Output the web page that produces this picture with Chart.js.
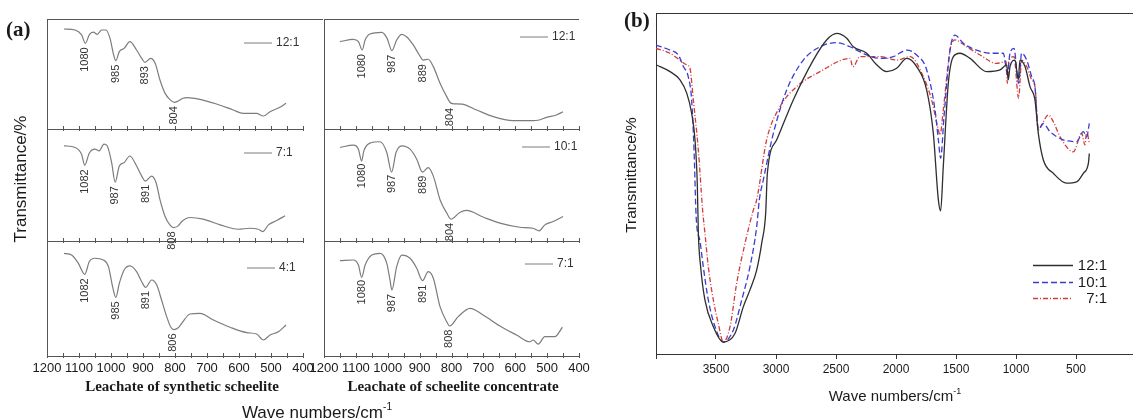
<!DOCTYPE html>
<html>
<head>
<meta charset="utf-8">
<script src="https://cdn.jsdelivr.net/npm/chart.js@4"></script>
<style>
body{margin:0;background:#fff;}
#page{position:relative;width:1133px;height:419px;overflow:hidden;font-family:"Liberation Sans",Arial,sans-serif;color:#1a1a1a;}
canvas{position:absolute;}
.txt{position:absolute;white-space:nowrap;line-height:1;}
.rot{transform:translate(-50%,-50%) rotate(-90deg);}
.ctr{transform:translate(-50%,-50%);}
.serif{font-family:"Liberation Serif","Times New Roman",serif;font-weight:bold;}
sup{font-size:0.6em;vertical-align:0.7em;line-height:0;}
</style>
</head>
<body>
<div id="page">
  <canvas id="syn12" width="296" height="150" style="left:27px;top:9px"></canvas>
  <canvas id="syn7" width="296" height="152" style="left:27px;top:119px"></canvas>
  <canvas id="syn4" width="296" height="155" style="left:27px;top:231px"></canvas>
  <canvas id="con12" width="295" height="150" style="left:304px;top:9px"></canvas>
  <canvas id="con10" width="295" height="152" style="left:304px;top:119px"></canvas>
  <canvas id="con7" width="295" height="155" style="left:304px;top:231px"></canvas>
  <canvas id="ratio" width="497" height="391" style="left:636px;top:3px"></canvas>

  <div class="txt serif" style="left:6px;top:19px;font-size:21px">(a)</div>
  <div class="txt serif" style="left:624px;top:10px;font-size:21px">(b)</div>
  <div class="txt rot" style="left:20px;top:179px;font-size:17px">Transmittance/%</div>
  <div class="txt rot" style="left:631px;top:175px;font-size:15.5px">Transmittance/%</div>
  <div class="txt ctr serif" style="left:182px;top:386px;font-size:15px">Leachate of synthetic scheelite</div>
  <div class="txt ctr serif" style="left:453px;top:386px;font-size:15px">Leachate of scheelite concentrate</div>
  <div class="txt ctr" style="left:317px;top:412px;font-size:17px">Wave numbers/cm<sup>-1</sup></div>
  <div class="txt ctr" style="left:895px;top:395px;font-size:15px">Wave numbers/cm<sup>-1</sup></div>
</div>
<script>
// --- (a) spectra, [wave number, transmittance] ---
const syn12 = [[1147,90.9],[1112,90],[1092,85.5],[1080,77.9],[1068,85.5],[1055,88],[1043,86.1],[1029,90],[1016,90],[1003,82.4],[993,68.8],[985,62.1],[974,70.3],[959,73.3],[941,79.4],[920,71.8],[904,64.2],[894,60.6],[876,64.2],[862,59.7],[847,44.5],[831,32.4],[815,26.5],[802,24.2],[790,25.5],[775,28],[763,28.5],[722,27],[670,22.7],[618,17.3],[587,14.2],[545,14.2],[524,11.8],[503,15.7],[472,19.7],[453,23.3]];
const syn7 = [[1147,85],[1112,83.5],[1092,77.5],[1082,67.6],[1068,78.4],[1050,82],[1037,80.5],[1022,86.5],[1012,85],[998,70],[987,52.5],[974,66.9],[959,70],[941,75.9],[920,66.9],[904,57.9],[893,53.4],[873,57.9],[859,52],[847,36.9],[831,21.9],[816,14.4],[806,12],[790,13.5],[779,17.4],[753,21],[712,19.5],[659,14.4],[602,10.5],[566,11.4],[540,10.5],[526,8.4],[508,14.4],[482,18.3],[456,22.5]];
const syn4 = [[1147,89.3],[1123,87.8],[1102,80.6],[1082,71],[1068,82],[1050,85],[1024,83.5],[1008,77.7],[995,60.3],[985,51],[974,63.2],[959,74.8],[941,78.3],[920,73.3],[904,64.6],[892,59.7],[873,66.1],[857,61.7],[842,48.7],[826,34.2],[813,25],[804,23],[790,24.5],[779,28.4],[753,36.5],[722,37.1],[680,31.3],[628,25],[576,20.3],[545,19.1],[524,13.9],[503,18.3],[477,21.1],[453,27]];
const con12 = [[1150,79.4],[1108,81.5],[1092,79.4],[1080,71.8],[1071,80.9],[1056,86.4],[1019,87.9],[1002,82.4],[987,71.2],[972,80.9],[956,86.1],[941,83.9],[920,76.4],[901,67.3],[889,62.7],[873,63.4],[857,56.7],[836,41.5],[815,29.4],[802,23.5],[790,22.9],[768,22.7],[721,17.3],[669,11.2],[607,7.6],[544,7.6],[525,8.2],[502,10.6],[471,12.7],[450,15.7]];
const con10 = [[1150,83.5],[1108,85.6],[1092,82],[1082,71.4],[1075,80.5],[1056,87.4],[1024,88.6],[1003,79],[988,61.5],[974,79],[956,85],[930,82],[909,73],[891,61.5],[873,65.5],[857,57.9],[836,36.9],[815,25],[802,19.5],[774,25.5],[753,27.3],[701,21.4],[648,15.9],[586,12.3],[544,11.4],[525,9],[507,14.4],[481,17.4],[450,21.9]];
const con7 = [[1150,82.9],[1108,83.5],[1092,79.1],[1082,68.4],[1071,79.1],[1050,87.8],[1024,89.3],[1003,80.6],[993,66.1],[987,57.4],[972,77.7],[956,87.8],[930,85],[909,76.3],[891,65.5],[873,73.3],[857,67.6],[836,42.9],[815,29.8],[806,26.1],[779,34.2],[742,41.5],[701,35.7],[648,26.1],[596,18.3],[554,12.4],[544,13.9],[528,10.4],[507,16.8],[476,16.8],[452,25]];

// peak labels of each spectrum
const pkSyn12 = ['1080','985','893','804'];
const pkSyn7 = ['1082','987','891','808'];
const pkSyn4 = ['1082','985','891','806'];
const pkCon12 = ['1080','987','889','804'];
const pkCon10 = ['1080','987','889','804'];
const pkCon7 = ['1080','987','891','808'];

// --- (b) spectra ---
const r12 = [[4000,84.8],[3883,82.8],[3800,80.4],[3744,76.5],[3703,70.6],[3675,62.8],[3656,50],[3647,35.4],[3628,25.6],[3592,15.8],[3522,8],[3439,3.5],[3342,6],[3272,13.9],[3217,18.8],[3161,24.6],[3119,32.5],[3086,41.3],[3072,53],[2994,62.8],[2856,74.5],[2689,86.2],[2578,92.1],[2494,94],[2411,92.6],[2356,90.1],[2244,88.2],[2161,84.8],[2078,82.8],[1994,83.8],[1911,86.7],[1828,84.3],[1744,77.4],[1689,64.7],[1647,45.2],[1628,42],[1606,54.9],[1564,79.4],[1522,87.2],[1467,88.2],[1383,86.7],[1244,82.8],[1133,83.3],[1078,84.8],[1064,80.4],[1050,84.3],[1008,86.2],[981,80.4],[967,86.2],[925,84.3],[883,78.4],[842,74.5],[814,64.7],[772,56.9],[689,53],[578,50.1],[494,50.5],[439,53],[397,55.9],[389,58.8]];
const r10 = [[4000,90.6],[3883,89.1],[3814,87.7],[3772,84.3],[3731,81.3],[3703,74.5],[3683,59.8],[3665,40],[3633,33],[3606,25.6],[3564,15.8],[3508,8],[3439,3.5],[3356,7],[3286,15.8],[3217,25.6],[3161,37.3],[3139,45.2],[3106,51],[3022,64.7],[2911,77.4],[2772,86.2],[2633,90.1],[2494,91.3],[2383,90.1],[2328,89.1],[2244,87.7],[2133,86.7],[2022,87.2],[1911,89.1],[1828,87.7],[1744,83.3],[1675,71.6],[1647,62.8],[1628,57.4],[1600,69.6],[1550,89.1],[1508,93.5],[1439,91.1],[1328,89.1],[1217,88.2],[1106,88.2],[1072,82.3],[1050,88.2],[1017,89.6],[978,79.4],[953,88.2],[911,86.2],[869,81.3],[842,78.4],[814,65.7],[772,67.6],[717,65.2],[606,62.8],[494,62.3],[439,65.2],[411,63.7],[389,67.6]];
const r7 = [[4000,89.6],[3883,88.2],[3744,84.8],[3717,83.8],[3689,74.5],[3647,59.8],[3611,42],[3592,35.4],[3564,25.6],[3522,15.8],[3481,9],[3439,3.5],[3383,8],[3328,20.7],[3258,32.5],[3189,42.2],[3161,45.2],[3078,62.8],[2967,72.5],[2828,78.4],[2633,82.8],[2383,86.7],[2360,84.2],[2300,87.2],[2133,87.2],[1994,86.2],[1883,87.2],[1772,81.3],[1703,74.5],[1647,65.7],[1633,64.2],[1606,71.6],[1550,89.1],[1508,92.1],[1411,90.1],[1300,87.7],[1161,85.2],[1083,85.8],[1072,79.4],[1060,85.8],[1017,87.2],[978,75],[953,86.2],[911,84.3],[869,80.4],[842,78.4],[814,65.7],[786,67.2],[731,70.1],[689,68.1],[633,63.7],[522,59.3],[453,64.7],[425,61.3],[411,65.2],[389,61.8]];

// tick values of panel (b)
const ticksB = [4000, 3500, 3000, 2500, 2000, 1500, 1000, 500];

const FONT = "'Liberation Sans', Arial, sans-serif";
const toXY = arr => arr.map(p => ({x: p[0], y: p[1]}));

// y pixel of the drawn curve at pixel x (linear between points)
function curveY(pts, px) {
  for (let i = 0; i < pts.length - 1; i++) {
    const a = pts[i], b = pts[i + 1];
    if ((px - a.x) * (px - b.x) <= 0) {
      const t = b.x === a.x ? 0 : (px - a.x) / (b.x - a.x);
      return a.y + t * (b.y - a.y);
    }
  }
  return -Infinity;
}

// top frame line
const frameTop = {
  id: 'frameTop',
  afterDraw(chart, args, o) {
    const {ctx, chartArea: a} = chart;
    ctx.save();
    ctx.strokeStyle = o.color; ctx.lineWidth = 1;
    const y = Math.round(a.top) + 0.5;
    ctx.beginPath(); ctx.moveTo(a.left, y); ctx.lineTo(a.right + (o.extend || 0), y); ctx.stroke();
    ctx.restore();
  }
};

// inward ticks, rotated peak labels and the small legend of each (a) panel
const decorA = {
  id: 'decorA',
  afterDraw(chart, args, o) {
    const {ctx, chartArea: a, scales: {x}} = chart;
    ctx.save();
    ctx.strokeStyle = '#555'; ctx.lineWidth = 1;
    x.ticks.forEach(t => {
      const px = Math.round(x.getPixelForValue(t.value)) + 0.5;
      ctx.beginPath(); ctx.moveTo(px, a.bottom - 3); ctx.lineTo(px, a.bottom + 2); ctx.stroke();
    });
    const pts = chart.getDatasetMeta(0).data;
    ctx.fillStyle = '#333';
    ctx.font = '11px ' + FONT;
    o.peaks.forEach(lbl => {
      const px = x.getPixelForValue(Number(lbl));
      let yLow = -Infinity;
      for (let d = -5; d <= 5; d++) yLow = Math.max(yLow, curveY(pts, px + d));
      ctx.save();
      ctx.translate(px, yLow + 4);
      ctx.rotate(-Math.PI / 2);
      ctx.textAlign = 'right'; ctx.textBaseline = 'middle';
      ctx.fillText(lbl, 0, 0);
      ctx.restore();
    });
    const ds = chart.data.datasets[0];
    const x1 = a.right - o.end, y = a.top + o.dy;
    ctx.strokeStyle = ds.borderColor; ctx.lineWidth = 1;
    ctx.beginPath(); ctx.moveTo(x1 - 28, y); ctx.lineTo(x1, y); ctx.stroke();
    ctx.font = '12px ' + FONT; ctx.fillStyle = '#333';
    ctx.textAlign = 'left'; ctx.textBaseline = 'middle';
    ctx.fillText(ds.label, x1 + 4, y);
    ctx.restore();
  }
};

function spectrumA(id, data, peaks, name, legend, bottom, top) {
  return new Chart(document.getElementById(id), {
    type: 'line',
    data: { datasets: [{
      label: name, data: toXY(data),
      borderColor: '#7c7c7c', borderWidth: 1.2, pointRadius: 0,
      cubicInterpolationMode: 'monotone'
    }] },
    options: {
      responsive: false, animation: false, events: [],
      layout: { padding: { left: 20, right: 20, top: 10, bottom: bottom ? 0 : 30 } },
      scales: {
        x: {
          type: 'linear', reverse: true, min: 400, max: 1200,
          grid: { display: false, drawTicks: false },
          border: { color: '#555', width: 1 },
          ticks: { display: bottom, stepSize: 50, autoSkip: false, maxRotation: 0, padding: 5,
                   color: '#1a1a1a', font: { size: 13, family: FONT },
                   callback: v => (v % 100 === 0 ? String(v) : '') },
          afterFit: s => { s.height = bottom ? 30 : 0; }
        },
        y: {
          min: 0, max: 100,
          ticks: { display: false }, grid: { display: false },
          border: { color: '#555', width: 1 },
          afterFit: s => { s.width = 0; }
        }
      },
      plugins: {
        legend: { display: false }, tooltip: { enabled: false },
        decorA: { peaks: peaks, end: legend[0], dy: legend[1] },
        frameTop: top === null ? false : { extend: top, color: '#555' }
      }
    },
    plugins: [decorA, frameTop]
  });
}

spectrumA('syn12', syn12, pkSyn12, '12:1', [31, 24], false, 21);
spectrumA('syn7', syn7, pkSyn7, '7:1', [31, 24], false, null);
spectrumA('syn4', syn4, pkSyn4, '4:1', [28, 27], true, null);
spectrumA('con12', con12, pkCon12, '12:1', [31, 18], false, 0);
spectrumA('con10', con10, pkCon10, '10:1', [29, 18], false, null);
spectrumA('con7', con7, pkCon7, '7:1', [26, 23], true, null);

// legend of panel (b)
const legendB = {
  id: 'legendB',
  afterDraw(chart, args, o) {
    const {ctx, chartArea: a} = chart;
    ctx.save();
    ctx.font = '15px ' + FONT;
    ctx.textAlign = 'right'; ctx.textBaseline = 'middle'; ctx.fillStyle = '#1a1a1a';
    chart.data.datasets.forEach((ds, i) => {
      const y = Math.round(a.top + o.top + i * o.gap) + 0.5;
      ctx.strokeStyle = ds.borderColor; ctx.lineWidth = ds.borderWidth;
      ctx.setLineDash(ds.borderDash || []);
      ctx.beginPath(); ctx.moveTo(a.left + o.x0, y); ctx.lineTo(a.left + o.x1, y); ctx.stroke();
      ctx.fillText(ds.label, a.left + o.xText, y);
    });
    ctx.restore();
  }
};

new Chart(document.getElementById('ratio'), {
  type: 'line',
  data: { datasets: [
    { label: '12:1', data: toXY(r12), borderColor: '#2e2e2e', borderWidth: 1.3,
      pointRadius: 0, cubicInterpolationMode: 'monotone' },
    { label: '10:1', data: toXY(r10), borderColor: '#3c3cd2', borderWidth: 1.3, borderDash: [6, 3],
      pointRadius: 0, cubicInterpolationMode: 'monotone' },
    { label: '7:1', data: toXY(r7), borderColor: '#d23c3c', borderWidth: 1.3, borderDash: [5, 2, 1, 2],
      pointRadius: 0, cubicInterpolationMode: 'monotone' }
  ] },
  options: {
    responsive: false, animation: false, events: [],
    layout: { padding: { left: 20, right: 0, top: 10, bottom: 0 } },
    scales: {
      x: {
        type: 'linear', reverse: true, min: 25, max: 4000,
        grid: { display: true, drawOnChartArea: false, drawTicks: true, tickLength: 5, color: '#333' },
        border: { color: '#333', width: 1 },
        afterBuildTicks: s => { s.ticks = ticksB.map(v => ({ value: v })); },
        ticks: { autoSkip: false, maxRotation: 0, padding: 3,
                 color: '#1a1a1a', font: { size: 12, family: FONT },
                 callback: v => (v === 4000 ? '' : String(v)) },
        afterFit: s => { s.height = 40; }
      },
      y: {
        min: 0, max: 100,
        ticks: { display: false }, grid: { display: false },
        border: { color: '#333', width: 1 },
        afterFit: s => { s.width = 0; }
      }
    },
    plugins: {
      legend: { display: false }, tooltip: { enabled: false },
      frameTop: { extend: 0, color: '#333' },
      legendB: { x0: 377, x1: 417, xText: 451, top: 252, gap: 16.5 }
    }
  },
  plugins: [frameTop, legendB]
});
</script>
</body>
</html>
